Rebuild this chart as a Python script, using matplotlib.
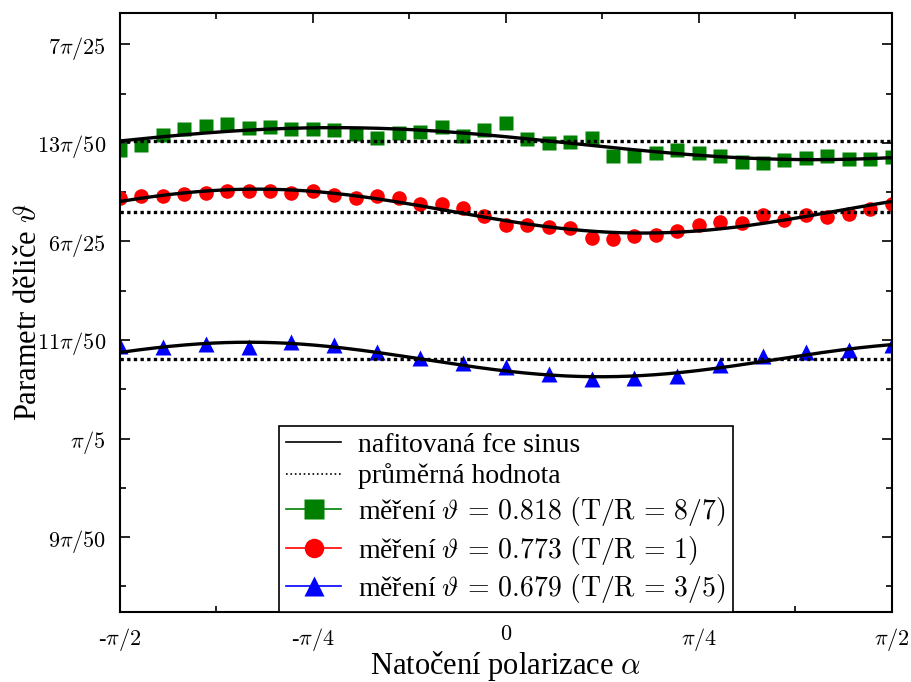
import numpy as np
import matplotlib.pyplot as plt
from matplotlib.lines import Line2D

plt.rcParams['font.family'] = ['Liberation Serif', 'DejaVu Serif']
plt.rcParams['mathtext.fontset'] = 'cm'

# measurement angles (degrees)
angles_5 = np.arange(-90, 91, 5)
angles_10 = np.arange(-90, 91, 10)

# measured splitter parameter
theta_818 = [0.8125, 0.8152, 0.8216, 0.8259, 0.8276, 0.8286, 0.8265, 0.8269, 0.8259, 0.8254,
             0.8252, 0.8225, 0.8201, 0.8231, 0.8237, 0.8269, 0.8212, 0.8248, 0.8295, 0.8191,
             0.8167, 0.8174, 0.8199, 0.8082, 0.8084, 0.8103, 0.8125, 0.8103, 0.8082, 0.8046,
             0.8040, 0.8057, 0.8074, 0.8084, 0.8067, 0.8063, 0.8078]
theta_773 = [0.7818, 0.7827, 0.7827, 0.7844, 0.7850, 0.7861, 0.7859, 0.7859, 0.7846, 0.7859,
             0.7833, 0.7816, 0.7829, 0.7816, 0.7780, 0.7776, 0.7755, 0.7701, 0.7642, 0.7646,
             0.7631, 0.7625, 0.7563, 0.7557, 0.7574, 0.7582, 0.7604, 0.7646, 0.7663, 0.7659,
             0.7706, 0.7674, 0.7706, 0.7695, 0.7712, 0.7748, 0.7780]
theta_679 = [0.6873, 0.6869, 0.6886, 0.6864, 0.6900, 0.6879, 0.6837, 0.6794, 0.6767, 0.6741,
             0.6694, 0.6660, 0.6667, 0.6684, 0.6752, 0.6809, 0.6837, 0.6847, 0.6879]

# mean values
means = [0.818, 0.773, 0.679]

# fitted sine: offset, amplitude, frequency, angle of maximum (deg)
fit_offset = [0.8163, 0.7733, 0.6787]
fit_amp = [0.0102, 0.0140, 0.0110]
fit_freq = [1.607, 2.0, 2.195]
fit_peak = [-40, -58, -60]

labels = ['měření $\\vartheta\\, =\\, 0.818\\ (\\mathrm{T/R}\\, =\\, 8/7)$',
          'měření $\\vartheta\\, =\\, 0.773\\ (\\mathrm{T/R}\\, =\\, 1)$',
          'měření $\\vartheta\\, =\\, 0.679\\ (\\mathrm{T/R}\\, =\\, 3/5)$']
colors = ['#008000', '#ff0000', '#0000ff']
markers = ['s', 'o', '^']

fig = plt.figure(figsize=(9.12, 6.82), dpi=100)
ax = fig.add_axes([0.1316, 0.1026, 0.8461, 0.8779])

series = [(angles_5, theta_818), (angles_5, theta_773), (angles_10, theta_679)]
msizes = [10, 10.5, 11]
for i, (a, t) in enumerate(series):
    ax.plot(np.deg2rad(a), t, markers[i], color=colors[i], ms=msizes[i], mec='none', zorder=2)

xs = np.linspace(-np.pi / 2, np.pi / 2, 500)
for i in range(3):
    ys = fit_offset[i] + fit_amp[i] * np.cos(fit_freq[i] * (xs - np.deg2rad(fit_peak[i])))
    ax.plot(xs, ys, color='k', lw=2.4, zorder=3)
    ax.plot([-np.pi / 2, np.pi / 2], [means[i], means[i]], color='k', lw=2.4,
            dashes=(1, 1), zorder=3)

ax.set_xlim(-np.pi / 2, np.pi / 2)
ax.set_ylim(0.5177, 0.8994)

ax.set_xticks([-np.pi / 2, -np.pi / 4, 0, np.pi / 4, np.pi / 2],
              ['-$\\pi/2$', '-$\\pi/4$', '$0$', '$\\pi/4$', '$\\pi/2$'])
ax.set_xticks([-3 * np.pi / 8, -np.pi / 8, np.pi / 8, 3 * np.pi / 8], minor=True)
ax.set_yticks([k * np.pi / 50 for k in range(9, 15)],
              ['$9\\pi/50$', '$\\pi/5$', '$11\\pi/50$', '$6\\pi/25$', '$13\\pi/50$', '$7\\pi/25$'])
ax.set_yticks([(k + 0.5) * np.pi / 50 for k in range(8, 14)], minor=True)

ax.tick_params(which='both', direction='in', top=True, right=True, width=1.2, labelsize=16)
ax.tick_params(which='major', length=7, pad=10)
ax.tick_params(which='minor', length=4)
for s in ax.spines.values():
    s.set_linewidth(1.5)

ax.set_xlabel('Natočení polarizace $\\alpha$', fontsize=22, va='center')
ax.set_ylabel('Parametr děliče $\\vartheta$', fontsize=22, va='center')
ax.xaxis.set_label_coords(0.5, -0.090)
ax.yaxis.set_label_coords(-0.119, 0.5)

handles = [Line2D([], [], color='k', lw=1.2),
           Line2D([], [], color='k', lw=1.2, ls=':')]
for i in range(3):
    handles.append(Line2D([], [], color=colors[i], lw=1.2, marker=markers[i], ms=14, mec='none'))
leg = ax.legend(handles, ['nafitovaná fce sinus', 'průměrná hodnota'] + labels,
                loc='lower center', borderaxespad=0, fancybox=False, edgecolor='k',
                framealpha=1, fontsize=20, handlelength=2.0, labelspacing=0.2,
                handletextpad=0.6, borderpad=0.25)
leg.get_frame().set_linewidth(1.2)

fig.savefig('out.png', dpi=100)
